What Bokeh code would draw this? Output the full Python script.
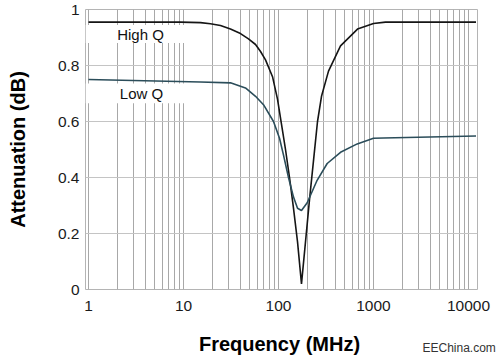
from bokeh.plotting import figure
from bokeh.models import FixedTicker, Range1d, Label
from bokeh.embed import file_html
from bokeh.resources import INLINE

# ---- data ----
freq_high = [1, 9.3, 15.1, 19.2, 24.5, 31.2, 39.8, 48.3, 57.3, 64.7, 73.0, 86.5,
             97.6, 107.6, 118.5, 130.6, 143.9, 158.6, 174.6, 192.4, 211.9, 233.6,
             257.4, 283.6, 336, 449.6, 678.6, 1000, 1337, 12000]
att_high = [0.955, 0.955, 0.953, 0.949, 0.943, 0.93, 0.914, 0.895, 0.875, 0.85, 0.82, 0.76,
            0.68, 0.59, 0.50, 0.40, 0.29, 0.17, 0.02, 0.17, 0.32, 0.46,
            0.60, 0.69, 0.78, 0.87, 0.93, 0.95, 0.955, 0.955]

freq_low = [1, 15.1, 31.2, 44.9, 57.3, 69.5, 88.6, 102.5, 112.9, 127.4, 143.9,
            158.6, 174.6, 200.5, 255, 325.5, 449.6, 673.6, 1000, 1274, 12000]
att_low = [0.75, 0.741, 0.738, 0.72, 0.69, 0.66, 0.60, 0.54, 0.48, 0.40, 0.33,
           0.29, 0.282, 0.31, 0.39, 0.45, 0.49, 0.52, 0.54, 0.541, 0.548]

x_major = [1, 10, 100, 1000, 10000]
x_tick_labels = ["1", "10", "100", "1000", "10000"]
y_major = [0, 0.2, 0.4, 0.6, 0.8, 1]
y_tick_labels = ["0", "0.2", "0.4", "0.6", "0.8", "1"]

x_start = 10 ** (-3 / 95)
x_end = 10 ** (389 / 95)
x_minor = [m * 10 ** e for e in range(0, 5) for m in range(2, 10) if m * 10 ** e < x_end]

FONT = "Liberation Sans"

p = figure(width=500, height=359, x_axis_type="log",
           x_range=Range1d(x_start, x_end), y_range=Range1d(0, 1),
           output_backend="svg", toolbar_location=None,
           min_border_left=85, min_border_right=23, min_border_top=9,
           min_border_bottom=70)

p.xaxis.ticker = FixedTicker(ticks=x_major, minor_ticks=x_minor)
p.yaxis.ticker = FixedTicker(ticks=y_major)
p.xaxis.major_label_overrides = {t: l for t, l in zip(x_major, x_tick_labels)}
p.yaxis.major_label_overrides = {t: l for t, l in zip(y_major, y_tick_labels)}

for ax in (p.xaxis, p.yaxis):
    ax.axis_line_color = None
    ax.major_tick_line_color = None
    ax.minor_tick_line_color = None
    ax.major_tick_out = 0
    ax.major_tick_in = 0
    ax.minor_tick_out = 0
    ax.minor_tick_in = 0
    ax.major_label_text_font = FONT
    ax.major_label_text_font_size = "15.5px"
    ax.major_label_text_color = "#1a1a1a"
    ax.axis_label_text_font = FONT
    ax.axis_label_text_font_style = "bold"
    ax.axis_label_text_font_size = "20px"
    ax.axis_label_text_color = "#000000"

p.yaxis.axis_label = "Attenuation (dB)"
p.xaxis.major_label_standoff = 11
p.yaxis.major_label_standoff = 6
p.yaxis.axis_label_standoff = 26

p.xgrid.grid_line_color = "#a8a8a8"
p.xgrid.minor_grid_line_color = "#a8a8a8"
p.ygrid.grid_line_color = "#c4c4c4"
p.outline_line_color = "#b4b4b4"
p.background_fill_color = "white"
p.border_fill_color = "white"

# white boxes behind the curve labels
p.quad(left=[x_start, x_start], right=[13.4, 13.4], top=[0.945, 0.736],
       bottom=[0.88, 0.665], fill_color="white", line_color=None)

p.line(freq_high, att_high, line_color="#151515", line_width=1.6)
p.line(freq_low, att_low, line_color="#2b4d5a", line_width=1.6)

p.add_layout(Label(x=3.53, y=0.911, text="High Q", text_align="center",
                   text_baseline="middle", text_font=FONT,
                   text_font_size="15px", text_color="#111111"))
p.add_layout(Label(x=3.61, y=0.70, text="Low Q", text_align="center",
                   text_baseline="middle", text_font=FONT,
                   text_font_size="15px", text_color="#111111"))

# x-axis title and source note, placed in the panel below the axis
p.add_layout(Label(x=194, y=-8, x_units="screen", y_units="screen",
                   text="Frequency (MHz)", text_align="center", text_baseline="middle",
                   text_font=FONT, text_font_style="bold", text_font_size="20px",
                   text_color="#000000"), "below")
p.add_layout(Label(x=337, y=2, x_units="screen", y_units="screen",
                   text="EEChina.com", text_align="left", text_baseline="middle",
                   text_font=FONT, text_font_size="12px", text_color="#333333"),
             "below")

open("out.html", "w").write(file_html(p, INLINE))
